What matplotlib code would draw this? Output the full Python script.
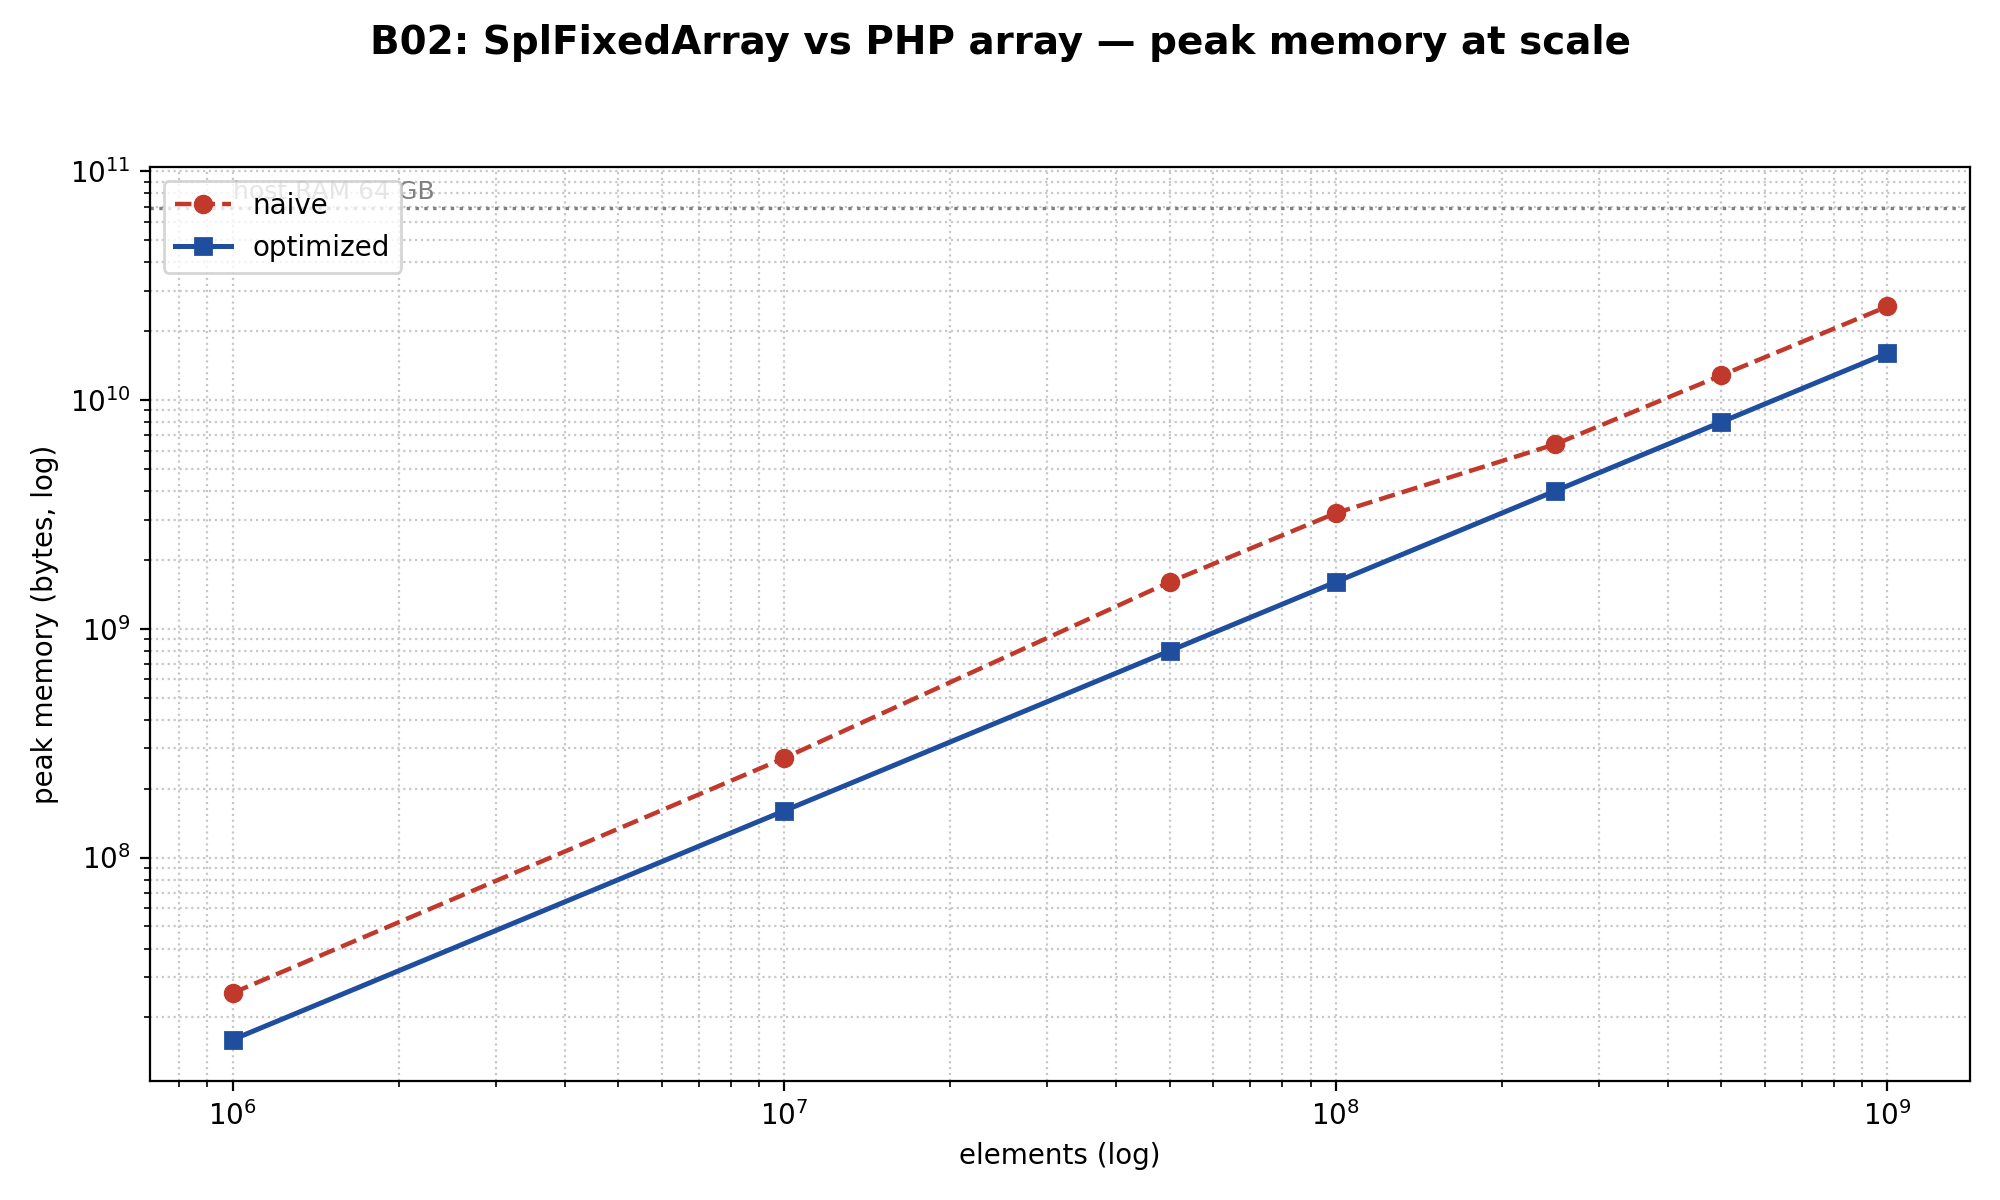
import numpy as np
import matplotlib
matplotlib.use('Agg')
import matplotlib.pyplot as plt

# elements per run
n_elements = [1e6, 1e7, 5e7, 1e8, 2.5e8, 5e8, 1e9]

# peak memory in bytes
naive_bytes = [2.56e7, 2.72e8, 1.6e9, 3.2e9, 6.4e9, 1.28e10, 2.56e10]
optimized_bytes = [1.6e7, 1.6e8, 8.0e8, 1.6e9, 4.0e9, 8.0e9, 1.6e10]

host_ram = 64 * 2**30  # 64 GB

fig, ax = plt.subplots(figsize=(10, 6), dpi=200)
fig.subplots_adjust(left=0.075, right=0.985, top=0.861, bottom=0.099)

ax.axhline(host_ram, color='#808080', linestyle=':', linewidth=1.2)
ax.text(1.0e6, host_ram * 1.05, 'host RAM 64 GB', color='#808080', fontsize=9,
        va='bottom', ha='left')

ax.plot(n_elements, naive_bytes, color='#c0392b', linestyle='--', marker='o',
        markersize=6, linewidth=1.6, label='naive')
ax.plot(n_elements, optimized_bytes, color='#1f4e9f', linestyle='-', marker='s',
        markersize=6, linewidth=1.8, label='optimized')

ax.set_xscale('log')
ax.set_yscale('log')
ax.grid(True, which='both', linestyle=':', color='#c8c8c8', linewidth=0.8)
ax.set_xlabel('elements (log)')
ax.set_ylabel('peak memory (bytes, log)')
ax.legend(loc='upper left')

fig.suptitle('B02: SplFixedArray vs PHP array — peak memory at scale',
             fontsize=14, fontweight='bold', y=0.98)

plt.savefig('out.png')
